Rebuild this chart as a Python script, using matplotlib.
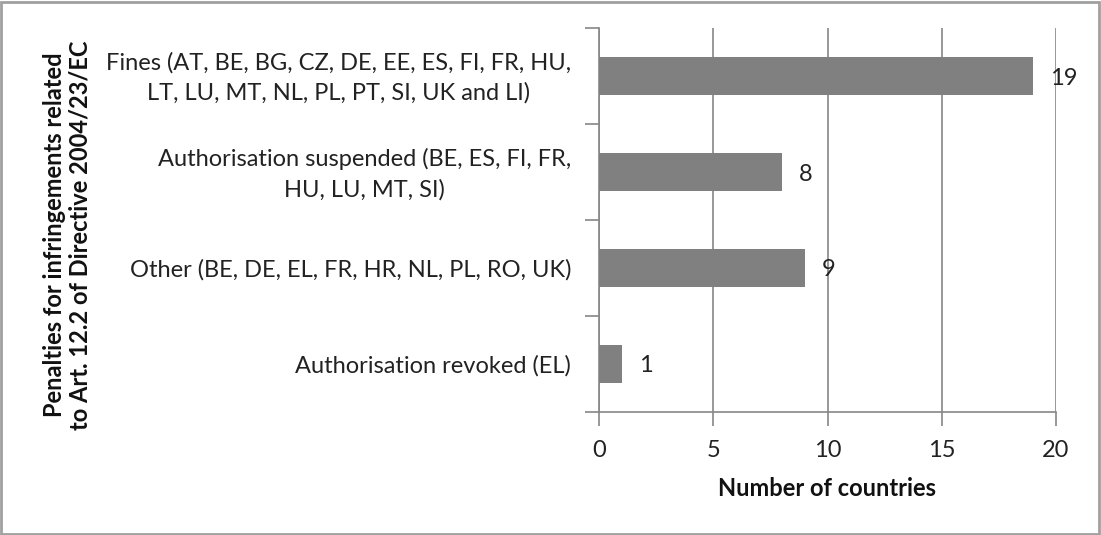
import matplotlib
matplotlib.use("Agg")
import matplotlib.pyplot as plt
import matplotlib.transforms as mtransforms
from matplotlib.patches import Rectangle

categories = [
    "Fines (AT, BE, BG, CZ, DE, EE, ES, FI, FR, HU,\nLT, LU, MT, NL, PL, PT, SI, UK and LI)",
    "Authorisation suspended (BE, ES, FI, FR,\nHU, LU, MT, SI)",
    "Other (BE, DE, EL, FR, HR, NL, PL, RO, UK)",
    "Authorisation revoked (EL)",
]
values = [19, 8, 9, 1]
xticks = [0, 5, 10, 15, 20]
xlabel = "Number of countries"
ylabel = "Penalties for infringements related\nto Art. 12.2 of Directive 2004/23/EC"

plt.rcParams['font.family'] = ['Lato', 'DejaVu Sans']

W, H = 1101, 535
fig = plt.figure(figsize=(W / 100, H / 100), dpi=100)
ax = fig.add_axes([599 / W, 1 - 412 / H, (1056 - 599) / W, (412 - 28) / H])

grey = '#868686'
txt = '#222222'
fs = 17
n = len(categories)
ypos = list(range(n))
ax.barh(ypos, values, height=0.39, color='#808080', zorder=3)
ax.set_ylim(n - 0.5, -0.5)
ax.set_xlim(0, 20)
ax.set_xticks(xticks)
ax.set_xticklabels([str(t) for t in xticks], fontsize=fs, color=txt)
ax.set_yticks([i - 0.5 for i in range(n + 1)])
ax.set_yticklabels([])
ax.tick_params(axis='y', which='major', length=10, color=grey, width=1.2)
ax.tick_params(axis='x', length=10, color=grey, width=1.2, pad=10)
ax.grid(axis='x', color=grey, linewidth=1.2, zorder=0)
for s in ['top', 'right']:
    ax.spines[s].set_visible(False)
for s in ['left', 'bottom']:
    ax.spines[s].set_color(grey)
    ax.spines[s].set_linewidth(1.2)

# category labels, placed via blended transform (axes x, data y)
trans = ax.get_yaxis_transform()
offset = mtransforms.ScaledTranslation(-28 / 100, -2 / 100, fig.dpi_scale_trans)
for i, c in enumerate(categories):
    ax.text(0, i, c, transform=trans + offset, ha='right', va='center',
            fontsize=fs, color=txt, multialignment='center', linespacing=1.5,
            clip_on=False)

for i, v in enumerate(values):
    ax.annotate(str(v), (v, i), xytext=(17, -2), textcoords='offset pixels',
                ha='left', va='center', fontsize=fs, color=txt, zorder=4)

ax.set_xlabel(xlabel, fontsize=fs, fontweight='bold', labelpad=12, color='#111111')
fig.text(67 / W, 1 - 235 / H, ylabel, rotation=90, ha='center', va='center',
         fontsize=fs, fontweight='bold', multialignment='center', color='#111111',
         linespacing=1.15)

fig.patches.append(Rectangle((1 / W, 1 / H), (W - 3) / W, (H - 3) / H, transform=fig.transFigure,
                             fill=False, edgecolor='#a0a0a0', linewidth=2))

fig.savefig('out.png', dpi=100)
